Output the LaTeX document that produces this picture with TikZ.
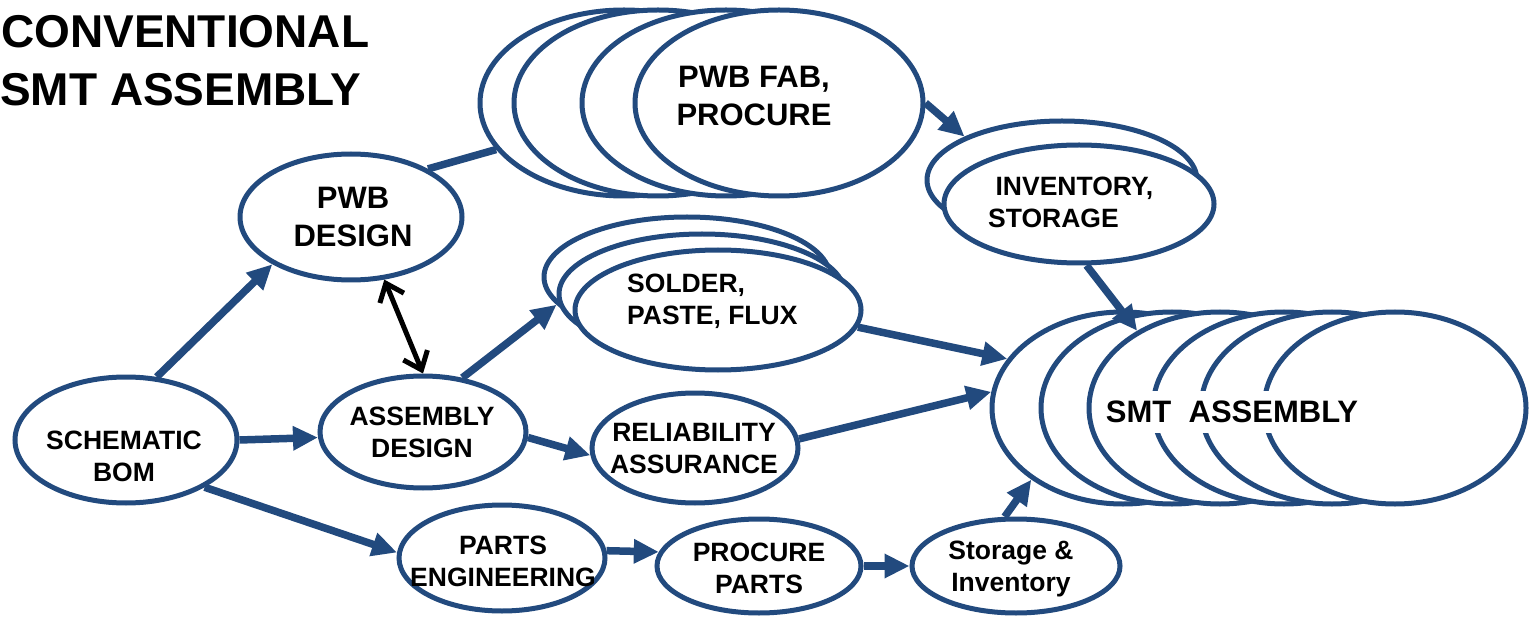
\documentclass[tikz,border=0pt]{standalone}
\usepackage{fontspec}
\setmainfont{Liberation Sans}
\usetikzlibrary{shapes.geometric}
\usetikzlibrary{arrows.meta}
\definecolor{flowblue}{HTML}{224A7E}
\tikzset{>=latex}
\tikzset{
  blob/.style={ellipse, draw=flowblue, line width=5pt, fill=white, inner sep=0pt},
  lbl/.style={font=\bfseries\fontsize{26.5}{32}\selectfont, align=center, inner sep=0pt},
  biglbl/.style={font=\bfseries\fontsize{31}{38}\selectfont, align=center, inner sep=0pt},
  flow/.style={flowblue, line width=7.5pt, -{Triangle[length=25pt,width=23pt]}},
  twoway/.style={black, line width=5pt, {Straight Barb[length=16pt,width=26pt]}-{Straight Barb[length=16pt,width=26pt]}},
}

\begin{document}
\begin{tikzpicture}[x=1pt, y=-1pt]
            \useasboundingbox (0,0) rectangle (1530,617);
            \node[font=\bfseries\fontsize{46}{57}\selectfont, anchor=base west, inner sep=0pt] (titleA) at (1,48) {CONVENTIONAL};
            \node[font=\bfseries\fontsize{46}{57}\selectfont, anchor=base west, inner sep=0pt] (titleB) at (0,106) {SMT ASSEMBLY};
            % single ellipses
            \node[blob, minimum width=222pt, minimum height=126pt] (sch) at (126,440) {};
            \node[blob, minimum width=222pt, minimum height=126pt] (pwbd) at (351,217) {};
            \node[blob, minimum width=206pt, minimum height=112pt] (asmd) at (423,432) {};
            \node[blob, minimum width=206pt, minimum height=106pt] (parts) at (502,558) {};
            \node[blob, minimum width=206pt, minimum height=110pt] (rel) at (695,448) {};
            \node[blob, minimum width=204pt, minimum height=94pt] (proc) at (759,566) {};
            \node[blob, minimum width=208pt, minimum height=94pt] (stor) at (1016,566) {};
            % stacked ellipses
            \foreach \x/\n in {624/A,658/B,726/C,779/D}
                \node[blob, minimum width=288pt, minimum height=186pt] (fab\n) at (\x,103) {};
            \foreach \x/\y/\n in {687/277/A,702/294/B,718/310/C}
                \node[blob, minimum width=286pt, minimum height=120pt] (sol\n) at (\x,\y) {};
            \foreach \x/\y/\n in {1062/180/A,1079/204/B}
                \node[blob, minimum width=270pt, minimum height=118pt] (inv\n) at (\x,\y) {};
            \foreach \x/\n in {1123/A,1172/B,1220/C,1284/D,1332/E,1395/F}
                \node[blob, minimum width=262pt, minimum height=192pt] (smt\n) at (\x,408) {};
            % labels
            \node[lbl] (schT) at (124,456) {SCHEMATIC\\BOM};
            \node[biglbl] (pwbdT) at (353,217) {PWB\\DESIGN};
            \node[lbl] (asmdT) at (422,432) {ASSEMBLY\\DESIGN};
            \node[lbl] (partsT) at (503,561) {PARTS\\ENGINEERING};
            \node[lbl] (relT) at (694,449) {RELIABILITY\\ASSURANCE};
            \node[lbl] (procT) at (759,568) {PROCURE\\PARTS};
            \node[lbl] (storT) at (1011,569) {Storage \&\\Inventory};
            \node[biglbl] (fabT) at (754,96) {PWB FAB,\\PROCURE};
            \node[lbl, align=left, anchor=west] (solT) at (627,301) {SOLDER,\\PASTE, FLUX};
            \node[lbl, align=left, anchor=west] (invT) at (988,202) {\ INVENTORY,\\STORAGE};
            \node[biglbl, fill=white, inner xsep=4pt, inner ysep=10pt] (smtT) at (1232,412) {SMT\ \ ASSEMBLY};
            % connectors
            \draw[flow] (sch.64) -- (pwbd.211);
            \draw[flow] (sch.0) -- (asmd.183);
            \draw[flow] (sch.329) -- (parts.177);
            \draw[twoway] (pwbd.298) -- (asmd.north);
            \draw[flowblue, line width=7.5pt] (pwbd.32) -- (fabA.200);
            \draw[flow] (fabD.east) -- (invA.156);
            \draw[flow] (invB.277) -- (smtC.137);
            \draw[flow] (asmd.54) -- (solA.192);
            \draw[flow] (asmd.357) -- (rel.184);
            \draw[flow] (solC.353) -- (smtA.157);
            \draw[flow] (rel.5) -- (smtA.173);
            \draw[flow] (parts.4) -- (proc.172);
            \draw[flow] (proc.east) -- (stor.west);
            \draw[flow] (stor.103) -- (smtA.218);
        \end{tikzpicture}
\end{document}
